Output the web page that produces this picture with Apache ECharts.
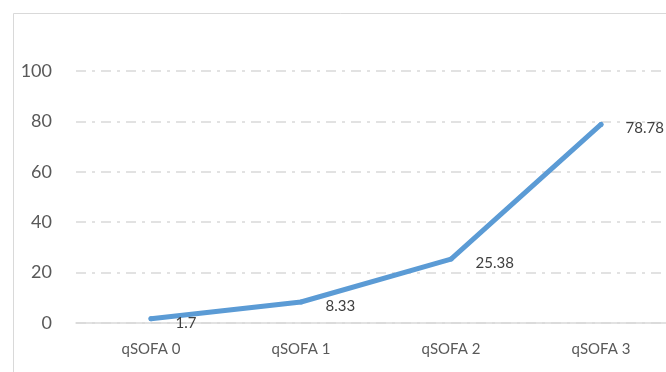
<!DOCTYPE html>
<html>
<head>
<meta charset="utf-8">
<script src="https://cdn.jsdelivr.net/npm/echarts@6/dist/echarts.min.js"></script>
<style>
  html, body { margin: 0; padding: 0; background: #fff; }
  #chart { width: 666px; height: 372px; }
</style>
</head>
<body>
<div id="chart"></div>
<script>
var categories = ['qSOFA 0', 'qSOFA 1', 'qSOFA 2', 'qSOFA 3'];
var values = [1.7, 8.33, 25.38, 78.78];
var yTicks = [0, 20, 40, 60, 80, 100];

var chart = echarts.init(document.getElementById('chart'));
var option = {
    backgroundColor: '#fff',
    animation: false,
    textStyle: { fontFamily: 'Lato' },
    graphic: [{
        type: 'rect',
        shape: { x: 13.5, y: 13.5, width: 700, height: 400 },
        style: { fill: 'none', stroke: '#d9d9d9', lineWidth: 1 },
        silent: true
    }],
    grid: { left: 76, top: 71, width: 600, height: 252, outerBoundsMode: 'none' },
    xAxis: {
        type: 'category',
        data: categories,
        boundaryGap: true,
        axisLine: { lineStyle: { color: '#d9d9d9', width: 1.5 } },
        axisTick: { show: false },
        axisLabel: { color: '#595959', fontSize: 15, margin: 19 }
    },
    yAxis: {
        type: 'value',
        min: yTicks[0],
        max: yTicks[yTicks.length - 1],
        interval: 20,
        axisLine: { show: false },
        axisTick: { show: false },
        axisLabel: { color: '#595959', fontSize: 18, margin: 24 },
        splitLine: {
            lineStyle: { color: '#d9d9d9', width: 1.5, type: [10, 6, 3, 6] }
        }
    },
    series: [{
        type: 'line',
        data: values,
        symbol: 'circle',
        symbolSize: 5,
        showSymbol: true,
        itemStyle: { color: '#5b9bd5', borderWidth: 0 },
        lineStyle: { color: '#5b9bd5', width: 5, cap: 'round' },
        label: {
            show: true,
            position: 'right',
            distance: 22,
            offset: [0, 4],
            color: '#404040',
            fontSize: 15
        }
    }]
};
chart.setOption(option);
</script>
</body>
</html>
